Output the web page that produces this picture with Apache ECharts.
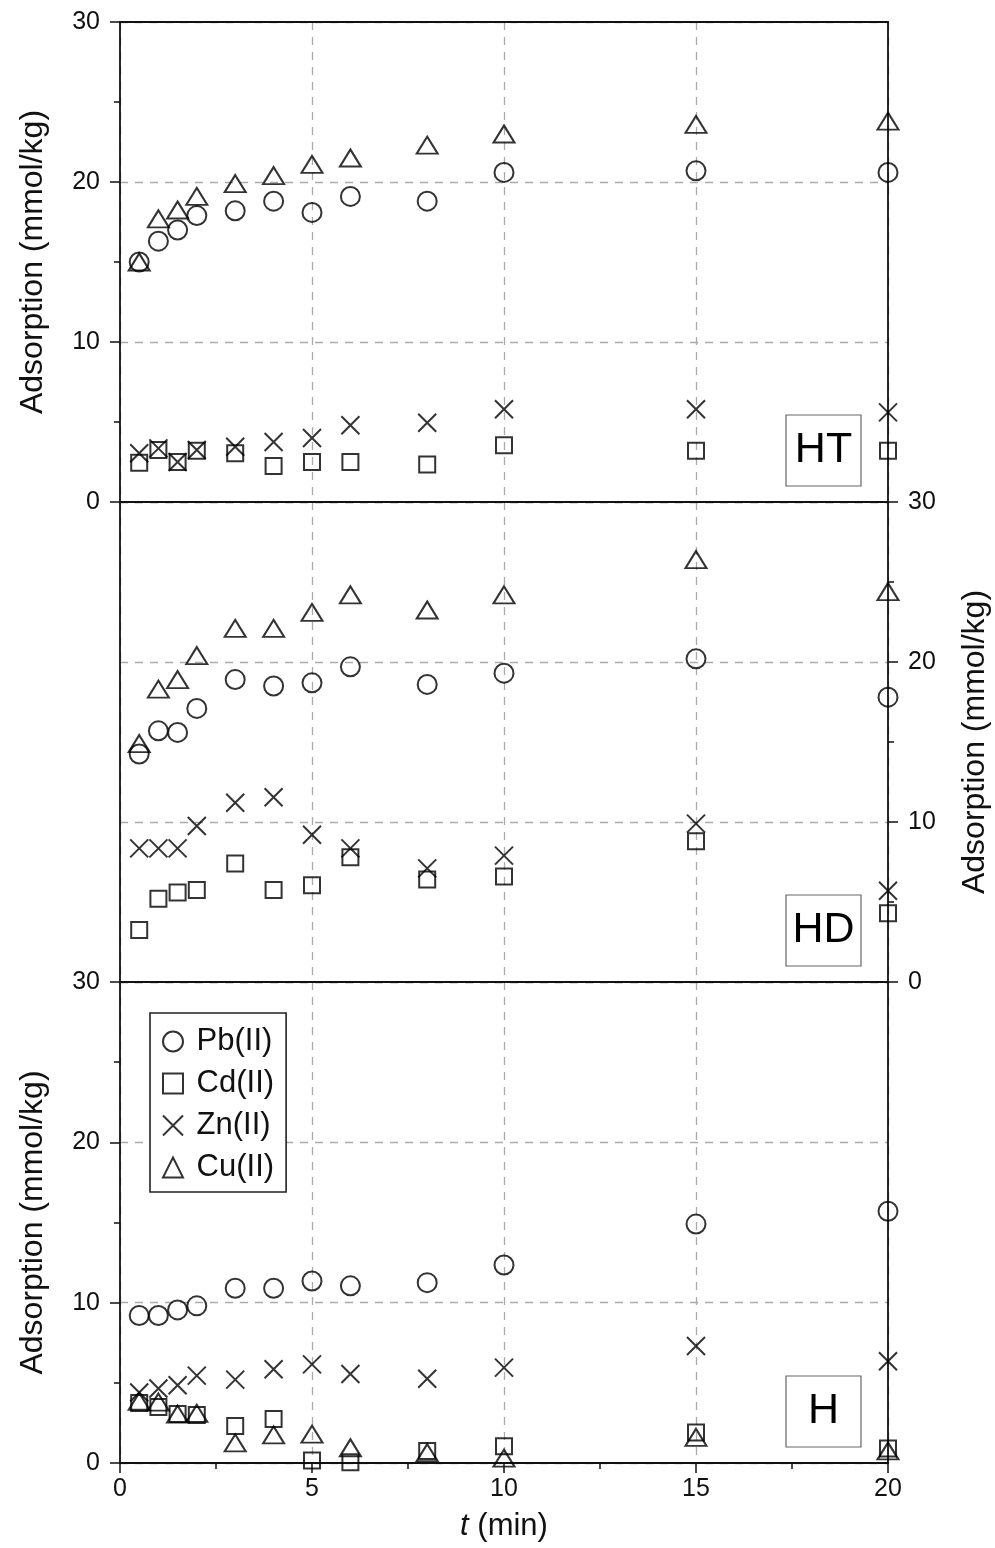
<!DOCTYPE html>
<html>
<head>
<meta charset="utf-8">
<script src="https://cdn.jsdelivr.net/npm/echarts@6/dist/echarts.min.js"></script>
<style>
html, body { margin: 0; padding: 0; background: #fff; }
#chart { width: 995px; height: 1548px; }
</style>
</head>
<body>
<div id="chart"></div>
<script>
// Sampling times (min)
const time = [0.5, 1, 1.5, 2, 3, 4, 5, 6, 8, 10, 15, 20];
const metals = ['Pb(II)', 'Cd(II)', 'Zn(II)', 'Cu(II)'];
const panelNames = ['HT', 'HD', 'H'];

// Adsorption (mmol/kg), panel HT
const htPb = [15.0, 16.3, 17.0, 17.9, 18.2, 18.8, 18.1, 19.1, 18.8, 20.6, 20.7, 20.6];
const htCd = [2.45, 3.25, 2.5, 3.2, 3.05, 2.25, 2.5, 2.5, 2.35, 3.55, 3.2, 3.2];
const htZn = [3.05, 3.35, 2.5, 3.25, 3.45, 3.75, 4.0, 4.8, 4.95, 5.8, 5.8, 5.6];
const htCu = [15.0, 17.7, 18.25, 19.1, 19.9, 20.4, 21.1, 21.5, 22.3, 23.0, 23.6, 23.8];

// Adsorption (mmol/kg), panel HD
const hdPb = [14.25, 15.7, 15.6, 17.1, 18.9, 18.5, 18.7, 19.7, 18.6, 19.3, 20.2, 17.8];
const hdCd = [3.25, 5.2, 5.6, 5.75, 7.4, 5.75, 6.05, 7.8, 6.4, 6.6, 8.8, 4.3];
const hdZn = [8.35, 8.35, 8.35, 9.75, 11.2, 11.55, 9.2, 8.35, 7.1, 7.9, 9.9, 5.7];
const hdCu = [14.9, 18.3, 18.9, 20.4, 22.1, 22.1, 23.1, 24.2, 23.25, 24.2, 26.4, 24.4];

// Adsorption (mmol/kg), panel H
const hPb = [9.2, 9.2, 9.55, 9.8, 10.9, 10.9, 11.35, 11.05, 11.25, 12.35, 14.9, 15.7];
const hCd = [3.75, 3.5, 3.05, 3.0, 2.3, 2.75, 0.15, 0.05, 0.75, 1.05, 1.9, 0.9];
const hZn = [4.4, 4.65, 4.85, 5.45, 5.2, 5.85, 6.15, 5.55, 5.25, 5.95, 7.3, 6.35];
const hCu = [3.85, 3.8, 3.05, 3.1, 1.25, 1.75, 1.8, 0.95, 0.65, 0.3, 1.6, 0.75];

const panelData = [
  [htPb, htCd, htZn, htCu],
  [hdPb, hdCd, hdZn, hdCu],
  [hPb, hCd, hZn, hCu]
];

const FONT = 'Liberation Sans, Arial, Helvetica, sans-serif';
const INK = '#111';
const GRID_TOPS = [22, 502, 982];
const GRID_HEIGHTS = [480, 480, 481];
const LEFT = 120, WIDTH = 768;

const symbols = {
  'Pb(II)': { symbol: 'circle', size: 19 },
  'Cd(II)': { symbol: 'rect', size: 16 },
  'Zn(II)': { symbol: 'path://M0,0L10,10M0,10L10,0', size: 18 },
  'Cu(II)': { symbol: 'triangle', size: [21, 17] }
};

const axisLine = { show: true, onZero: false, lineStyle: { color: INK, width: 1.8 } };
const dashed = { show: true, lineStyle: { color: '#aaa', width: 1.3, type: [8, 7] } };
const tickLabel = { color: INK, fontSize: 25, fontFamily: FONT };
const yTitle = {
  name: 'Adsorption (mmol/kg)',
  nameLocation: 'middle',
  nameRotate: 90,
  nameGap: 71,
  nameTextStyle: { color: INK, fontSize: 32, fontFamily: FONT }
};

const grid = [], xAxis = [], yAxis = [], series = [], graphic = [];

panelNames.forEach((pname, p) => {
  grid.push({ left: LEFT, top: GRID_TOPS[p], width: WIDTH, height: GRID_HEIGHTS[p], outerBoundsMode: 'none' });
  const isBottom = p === 2;
  // bottom x axis (with vertical dashed grid)
  xAxis.push(Object.assign({
    gridIndex: p, type: 'value', position: 'bottom', min: 0, max: 20, interval: 5,
    axisLine: axisLine,
    axisTick: { show: isBottom, length: 10, lineStyle: { color: INK, width: 1.5 } },
    minorTick: { show: isBottom, splitNumber: 2, length: 6, lineStyle: { color: INK, width: 1.5 } },
    axisLabel: Object.assign({ show: isBottom, margin: 14 }, tickLabel),
    splitLine: dashed
  }, isBottom ? {
    name: '{it|t} (min)', nameLocation: 'middle', nameGap: 48,
    nameTextStyle: { color: INK, fontSize: 31, fontFamily: FONT,
      rich: { it: { fontStyle: 'italic', fontSize: 31, fontFamily: FONT, color: INK } } }
  } : {}));
  // top frame edge
  xAxis.push({
    gridIndex: p, type: 'value', position: 'top', min: 0, max: 20, interval: 5,
    axisLine: axisLine, axisTick: { show: false }, axisLabel: { show: false }, splitLine: { show: false }
  });
  const leftLabelled = p !== 1;
  // left y axis (with horizontal dashed grid)
  yAxis.push(Object.assign({
    gridIndex: p, type: 'value', position: 'left', min: 0, max: 30, interval: 10,
    axisLine: axisLine,
    axisTick: { show: leftLabelled, length: 10, lineStyle: { color: INK, width: 1.5 } },
    minorTick: { show: leftLabelled, splitNumber: 2, length: 6, lineStyle: { color: INK, width: 1.5 } },
    axisLabel: Object.assign({ show: leftLabelled, margin: 20 }, tickLabel),
    splitLine: dashed
  }, leftLabelled ? yTitle : {}));
  // right y axis
  yAxis.push(Object.assign({
    gridIndex: p, type: 'value', position: 'right', min: 0, max: 30, interval: 10,
    axisLine: axisLine,
    axisTick: { show: !leftLabelled, length: 10, lineStyle: { color: INK, width: 1.5 } },
    minorTick: { show: !leftLabelled, splitNumber: 2, length: 6, lineStyle: { color: INK, width: 1.5 } },
    axisLabel: Object.assign({ show: !leftLabelled, margin: 20 }, tickLabel),
    splitLine: { show: false }
  }, !leftLabelled ? yTitle : {}));

  metals.forEach((m, k) => {
    series.push({
      type: 'scatter',
      name: m,
      xAxisIndex: p * 2,
      yAxisIndex: p * 2,
      symbol: symbols[m].symbol,
      symbolSize: symbols[m].size,
      itemStyle: { color: 'transparent', borderColor: '#000', borderWidth: 2 },
      emphasis: { disabled: true },
      data: time.map((t, i) => [t, panelData[p][k][i]])
    });
  });

  // panel tag box
  const boxBottom = GRID_TOPS[p] + GRID_HEIGHTS[p] - 16;
  graphic.push({
    type: 'group',
    children: [
      { type: 'rect', shape: { x: 786, y: boxBottom - 71, width: 75, height: 71 },
        style: { fill: '#fff', stroke: '#666', lineWidth: 1.2 } },
      { type: 'text', x: 823.5, y: boxBottom - 35.5,
        style: { text: pname, fill: '#000', fontSize: 43, fontFamily: FONT, align: 'center', verticalAlign: 'middle' } }
    ]
  });
});

const chart = echarts.init(document.getElementById('chart'), null, { renderer: 'canvas' });
chart.setOption({
  animation: false,
  backgroundColor: '#fff',
  grid, xAxis, yAxis, series, graphic,
  legend: {
    data: metals,
    orient: 'vertical',
    left: 150, top: 1013,
    padding: [13, 12, 9, 12],
    itemGap: 11,
    itemWidth: 20, itemHeight: 20,
    formatter: ' {name}',
    backgroundColor: '#fff',
    borderColor: '#222', borderWidth: 1.6, borderRadius: 0,
    selectedMode: false,
    textStyle: { color: INK, fontSize: 31, fontFamily: FONT, lineHeight: 30 }
  }
});
</script>
</body>
</html>
